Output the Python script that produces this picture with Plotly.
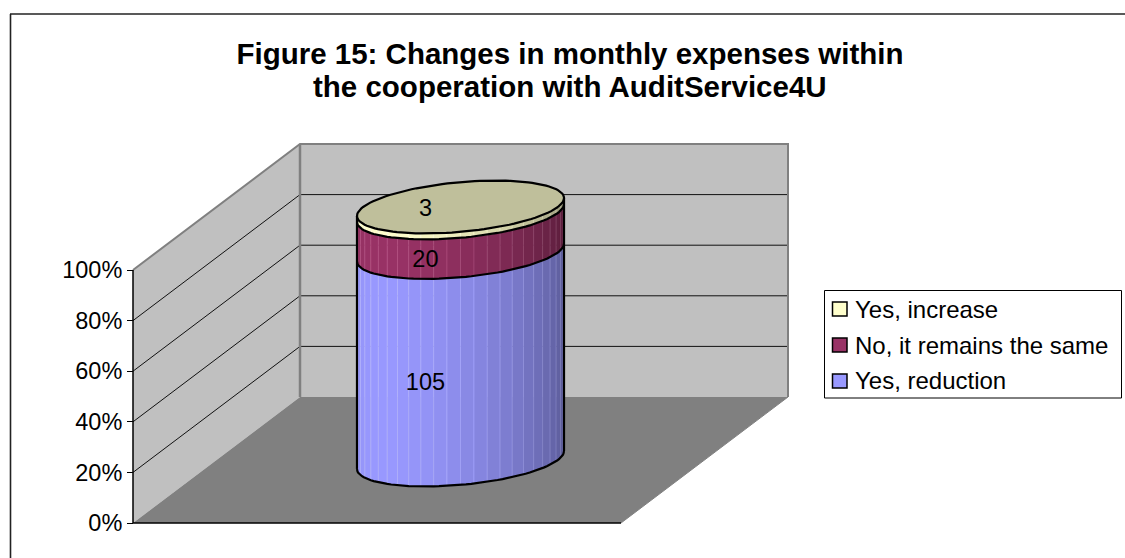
import math
import plotly.graph_objects as go

# ---- data ----
categories = ["Yes, reduction", "No, it remains the same", "Yes, increase"]
series_values = [105, 20, 3]
tick_values = [0, 20, 40, 60, 80, 100]
tick_labels = ["0%", "20%", "40%", "60%", "80%", "100%"]
title_lines = ["Figure 15: Changes in monthly expenses within", "the cooperation with AuditService4U"]

# ---- style ----
W, H = 1125, 558
FONT = "Liberation Sans, Arial, sans-serif"
base_rgb = [(153, 153, 255), (153, 51, 102), (255, 255, 204)]
top_rgb = "#bfbf9b"
WALL, FLOOR, EDGE = "#c0c0c0", "#808080", "#808080"
# oblique projection (axis units): one unit of depth moves the point
DX, DV = 167 / 488, 126 / 2.53
X_PX0, X_PXW = 133, 488     # x=0 pixel and pixels per x unit
Y_PX0, Y_PXU = 523, 2.53    # 0% pixel and pixels per percent
RX, RD = 97.4 / 488, 0.21   # cylinder radii in x units and depth units
TSIL = math.degrees(math.atan2(RD * 167, RX * 488))
N_STRIPS = 24


def proj(x, d, v):
    return x + d * DX, v + d * DV


def ring(t_deg, v):
    t = math.radians(t_deg)
    return proj(0.5 + RX * math.cos(t), 0.5 + RD * math.sin(t), v)


def arc(v, t0, t1, n=60):
    pts = [ring(t0 + (t1 - t0) * i / n, v) for i in range(n + 1)]
    return [p[0] for p in pts], [p[1] for p in pts]


def shade(phi):
    return 0.76 + 0.24 * math.cos(math.radians(phi + 50))


def rgb(c, f, add=0):
    return "rgb(%d,%d,%d)" % tuple(min(255, int(v * f + add)) for v in c)


fig = go.Figure()


def poly(pts, fill, line=None, width=0):
    xs, ys = zip(*pts)
    fig.add_trace(go.Scatter(x=list(xs) + [xs[0]], y=list(ys) + [ys[0]], mode="lines", fill="toself",
                             fillcolor=fill, line=dict(color=line or fill, width=width),
                             hoverinfo="skip", showlegend=False))


def line(xs, ys, color="black", width=1):
    fig.add_trace(go.Scatter(x=xs, y=ys, mode="lines", line=dict(color=color, width=width),
                             hoverinfo="skip", showlegend=False))


# walls and floor
poly([proj(0, 0, 0), proj(0, 1, 0), proj(0, 1, 100), proj(0, 0, 100)], WALL)
poly([proj(0, 1, 0), proj(1, 1, 0), proj(1, 1, 100), proj(0, 1, 100)], WALL)
poly([proj(0, 0, 0), proj(1, 0, 0), proj(1, 1, 0), proj(0, 1, 0)], FLOOR)
for tv in tick_values[1:-1]:
    a, b, c = proj(0, 0, tv), proj(0, 1, tv), proj(1, 1, tv)
    line([a[0], b[0], c[0]], [a[1], b[1], c[1]], "#111111", 1)
a, b, c, d = proj(0, 0, 100), proj(0, 1, 100), proj(1, 1, 100), proj(1, 1, 0)
line([a[0], b[0], c[0], d[0]], [a[1], b[1], c[1], d[1]], EDGE, 2)
a, b = proj(0, 1, 0), proj(0, 1, 100)
line([a[0], b[0]], [a[1], b[1]], EDGE, 2.5)
a, b = proj(1, 0, 0), proj(1, 1, 0)
line([a[0], b[0]], [a[1], b[1]], EDGE, 1)
a, b, c = proj(0, 0, 100), proj(0, 0, 0), proj(1, 0, 0)
line([a[0], b[0], c[0]], [a[1], b[1], c[1]], "black", 1.5)

# 100 % stacked cylinder
total = sum(series_values)
levels = [0]
for val in series_values:
    levels.append(levels[-1] + 100 * val / total)

t_left, t_right = -180 + TSIL, TSIL
step = (t_right - t_left) / N_STRIPS
for k, col in enumerate(base_rgb):
    lo, hi = levels[k], levels[k + 1]
    for i in range(N_STRIPS):
        t0, t1 = t_left + i * step, t_left + (i + 1) * step
        f = shade(-90 + (i + 0.5) * 180 / N_STRIPS)
        xa, ya = arc(lo, t0, t1, 4)
        xb, yb = arc(hi, t1, t0, 4)
        fig.add_trace(go.Scatter(x=xa + xb + [xa[0]], y=ya + yb + [ya[0]], mode="lines", fill="toself",
                                 fillcolor=rgb(col, f), line=dict(color=rgb(col, f, 32), width=0.6),
                                 hoverinfo="skip", showlegend=False))

xt, yt = arc(100, 0, 360, 120)
fig.add_trace(go.Scatter(x=xt, y=yt, mode="lines", fill="toself", fillcolor=top_rgb,
                         line=dict(color="black", width=2.2), hoverinfo="skip", showlegend=False))
for lv in levels[:-1]:
    xa, ya = arc(lv, t_left, t_right)
    line(xa, ya, "black", 2.2)
for t in (t_left, t_right):
    p0, p1 = ring(t, 0), ring(t, 100)
    line([p0[0], p1[0]], [p0[1], p1[1]], "black", 2.2)

# data labels: on the front of the cylinder, the topmost one on the lid
lx, ly = [], []
for k in range(len(series_values)):
    mid = (levels[k] + levels[k + 1]) / 2
    if k < len(series_values) - 1:
        p = proj(0.5 - RD * DX, 0.5 - RD, mid)
        lx.append(p[0] + RD * DX)
        ly.append(p[1] - 1.5 / Y_PXU)
    else:
        lx.append(0.5 + 0.5 * DX - RD * DX)
        ly.append(100 + 0.5 * DV - 3.5 / Y_PXU)
fig.add_trace(go.Scatter(x=lx, y=ly, mode="text", text=[str(v) for v in series_values],
                         textfont=dict(family=FONT, size=23.5, color="black"), textposition="middle center",
                         hoverinfo="skip", showlegend=False))


def px(x):
    return x / W


def py(y):
    return 1 - y / H


shapes = [
    dict(type="line", xref="paper", yref="paper", x0=px(10.5), x1=px(10.5), y0=0, y1=py(14), line=dict(color="#222222", width=1.6)),
    dict(type="line", xref="paper", yref="paper", x0=px(10), x1=1, y0=py(14), y1=py(14), line=dict(color="#222222", width=1.6)),
    dict(type="rect", xref="paper", yref="paper", x0=px(824.5), x1=px(1121.5), y0=py(290.5), y1=py(398), line=dict(color="black", width=1), fillcolor="white"),
]
annotations = [dict(xref="paper", yref="paper", x=px(570), y=py(87), text=title_lines[1], showarrow=False,
                    xanchor="center", yanchor="middle", font=dict(family=FONT, size=29.5, color="black", weight="bold"))]
for i, k in enumerate(reversed(range(len(categories)))):
    yc = 309 + i * 36
    shapes.append(dict(type="rect", xref="paper", yref="paper", x0=px(832.5), x1=px(847), y0=py(yc - 7), y1=py(yc + 7),
                       fillcolor=rgb(base_rgb[k], 1), line=dict(color="black", width=1.5)))
    annotations.append(dict(xref="paper", yref="paper", x=px(852.5), y=py(yc), text=categories[k], showarrow=False,
                            xanchor="left", yanchor="middle", font=dict(family=FONT, size=24, color="black")))

fig.update_layout(
    width=W, height=H, margin=dict(l=0, r=0, t=0, b=0), paper_bgcolor="white", plot_bgcolor="white",
    showlegend=False, shapes=shapes, annotations=annotations,
    title=dict(text=title_lines[0], x=570 / W, xanchor="center", y=1 - 54 / H, yanchor="middle",
               font=dict(family=FONT, size=29.5, color="black", weight="bold")),
    xaxis=dict(range=[-X_PX0 / X_PXW, (W - X_PX0) / X_PXW], visible=False, fixedrange=True),
    yaxis=dict(range=[-(H - Y_PX0) / Y_PXU, Y_PX0 / Y_PXU], tickmode="array", tickvals=tick_values, ticktext=tick_labels,
               showgrid=False, zeroline=False, showline=False, ticks="outside", ticklen=6, tickcolor="black", tickwidth=1,
               anchor="free", position=X_PX0 / W, tickfont=dict(family=FONT, size=23.5, color="black"), fixedrange=True),
)
fig.write_html("out.html", config=dict(displayModeBar=False),
               post_script="document.body.style.margin='0';document.documentElement.style.overflow='hidden';")
